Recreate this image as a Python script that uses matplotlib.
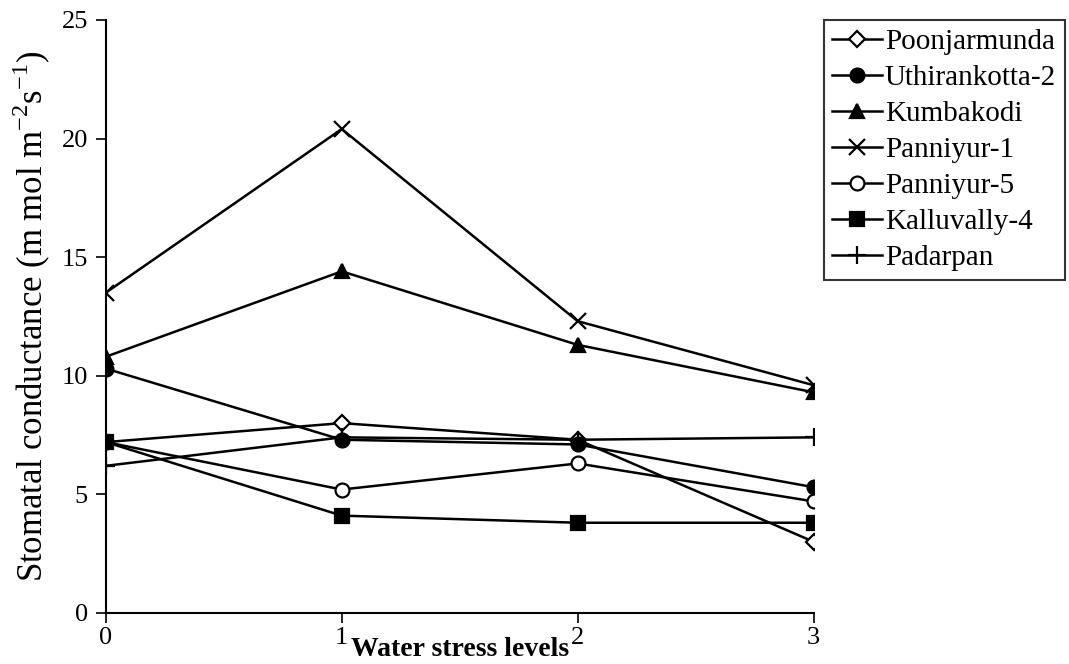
import matplotlib.pyplot as plt

plt.rcParams['font.family'] = 'Liberation Serif'
plt.rcParams['mathtext.fontset'] = 'custom'
plt.rcParams['mathtext.rm'] = 'Liberation Serif'

stress_levels = [0, 1, 2, 3]
poonjarmunda = [7.2, 8.0, 7.3, 3.0]
uthirankotta_2 = [10.3, 7.3, 7.1, 5.3]
kumbakodi = [10.8, 14.4, 11.3, 9.3]
panniyur_1 = [13.5, 20.4, 12.3, 9.6]
panniyur_5 = [7.2, 5.2, 6.3, 4.7]
kalluvally_4 = [7.2, 4.1, 3.8, 3.8]
padarpan = [6.2, 7.4, 7.3, 7.4]

fig = plt.figure(figsize=(10.69, 6.64), dpi=100)
ax = fig.add_axes([0.099, 0.077, 0.662, 0.893])

lw = 1.8
mew = 1.6
ax.plot(stress_levels, poonjarmunda, color='black', lw=lw, marker='D', ms=8, mew=mew,
        mfc='white', label='Poonjarmunda')
ax.plot(stress_levels, uthirankotta_2, color='black', lw=lw, marker='o', ms=10, mew=mew,
        mfc='black', label='Uthirankotta-2')
ax.plot(stress_levels, kumbakodi, color='black', lw=lw, marker='^', ms=10, mew=mew,
        mfc='black', label='Kumbakodi')
ax.plot(stress_levels, panniyur_1, color='black', lw=lw, marker='x', ms=12, mew=mew,
        label='Panniyur-1')
ax.plot(stress_levels, panniyur_5, color='black', lw=lw, marker='o', ms=10, mew=mew,
        mfc='white', label='Panniyur-5')
ax.plot(stress_levels, kalluvally_4, color='black', lw=lw, marker='s', ms=10, mew=mew,
        mfc='black', label='Kalluvally-4')
ax.plot(stress_levels, padarpan, color='black', lw=lw, marker='+', ms=13, mew=mew,
        label='Padarpan')

ax.set_xlim(0, 3)
ax.set_ylim(0, 25)
ax.set_xticks(stress_levels)
ax.set_yticks([0, 5, 10, 15, 20, 25])
ax.spines['top'].set_visible(False)
ax.spines['right'].set_visible(False)
ax.spines['left'].set_linewidth(1.5)
ax.spines['bottom'].set_linewidth(1.5)
ax.tick_params(direction='out', length=7, width=1.2, labelsize=19)
ax.tick_params(axis='x', pad=3)
ax.tick_params(axis='y', pad=6)

ax.set_xlabel('Water stress levels', fontsize=20, fontweight='bold', va='bottom')
ax.xaxis.set_label_coords(0.5, -0.0825)
ax.set_ylabel('Stomatal conductance (m mol m$^{-2}$s$^{-1}$)', fontsize=25, labelpad=6)

leg = fig.legend(loc='upper right', bbox_to_anchor=(0.996, 0.97), fontsize=21,
                 frameon=True, fancybox=False, edgecolor='black',
                 handlelength=1.7, handletextpad=0.1, labelspacing=0.33,
                 borderpad=0.3, borderaxespad=0)
leg.get_frame().set_linewidth(1.5)

fig.savefig('out.png', dpi=100)
